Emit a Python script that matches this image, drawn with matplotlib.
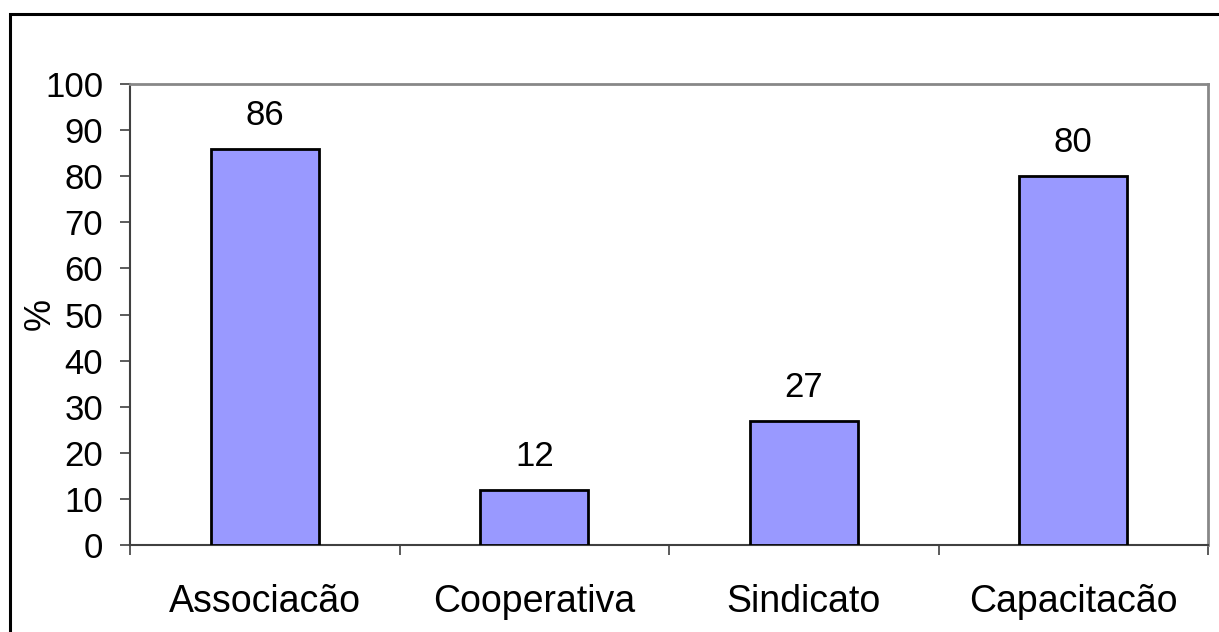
import matplotlib.pyplot as plt
from matplotlib.patches import Rectangle

categories = ['Associacão', 'Cooperativa', 'Sindicato', 'Capacitacão']
values = [86, 12, 27, 80]
y_ticks = list(range(0, 101, 10))

plt.rcParams['font.family'] = ['Liberation Sans', 'DejaVu Sans']

fig = plt.figure(figsize=(12.19, 6.32), dpi=100)
ax = fig.add_axes([130 / 1219, 1 - 545 / 632, (1208 - 130) / 1219, (545 - 84) / 632])

x = range(len(categories))
bars = ax.bar(x, values, width=0.4, color='#9999FF', edgecolor='black', linewidth=2, zorder=3)
for xi, v in zip(x, values):
    ax.annotate(str(v), (xi, v), xytext=(0, 24), textcoords='offset points',
                ha='center', va='center', fontsize=25)

ax.set_xlim(-0.5, len(categories) - 0.5)
ax.set_ylim(0, 100)
ax.set_yticks(y_ticks)
ax.tick_params(axis='y', labelsize=25, length=7.2, width=1.2, color='#404040', pad=12, direction='out')
ax.set_xticks([i - 0.5 for i in range(len(categories) + 1)])
ax.set_xticklabels([])
ax.set_xticks(list(x), minor=True)
ax.set_xticklabels(categories, minor=True, fontsize=27)
ax.tick_params(axis='x', which='major', length=7.2, width=1.2, color='#404040', direction='out')
ax.tick_params(axis='x', which='minor', length=0, pad=28)

for side in ['left', 'bottom']:
    ax.spines[side].set_color('#404040')
    ax.spines[side].set_linewidth(1.5)
for side in ['top', 'right']:
    ax.spines[side].set_color('#888888')
    ax.spines[side].set_linewidth(2)

ax.set_ylabel('%', fontsize=26)
ax.yaxis.set_label_coords(-(130 - 58) / 1078, 0.5)

fig.patches.append(Rectangle((9.5 / 1219, -0.1), 1.2, 1.1 - 13.5 / 632, transform=fig.transFigure,
                             fill=False, edgecolor='black', linewidth=2.2))

fig.savefig('out.png', dpi=100)
